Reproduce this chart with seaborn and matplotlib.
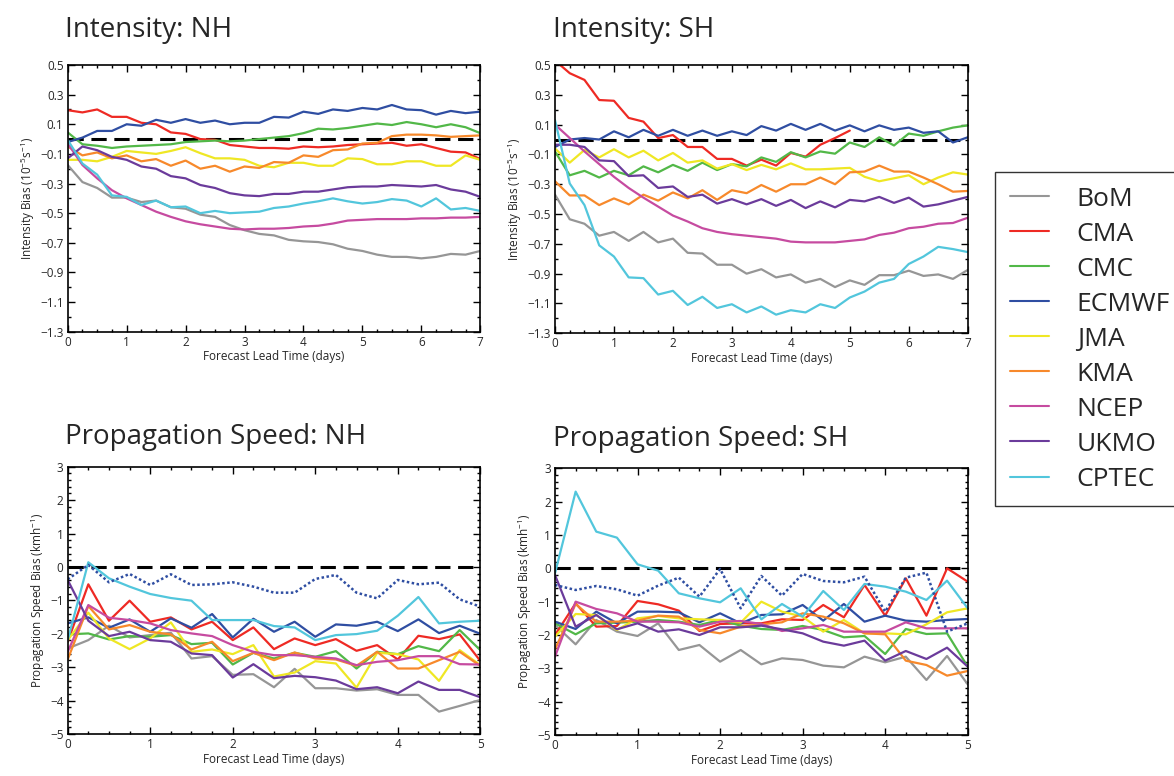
import numpy as np
import pandas as pd
import matplotlib
matplotlib.use("Agg")
import matplotlib.pyplot as plt
import seaborn as sns
from matplotlib.ticker import MultipleLocator
from matplotlib.lines import Line2D

sns.set_theme(style="ticks")
plt.rcParams['font.family'] = ['Open Sans', 'DejaVu Sans']
plt.rcParams['mathtext.default'] = 'regular'

models = ['BoM', 'CMA', 'CMC', 'ECMWF', 'JMA', 'KMA', 'NCEP', 'UKMO', 'CPTEC']
colors = ['#969696', '#ee2a24', '#52b848', '#2f4ea2', '#efe724',
          '#f7892b', '#c64ba0', '#6b3b9b', '#52c6dc']

lead_7 = np.arange(0, 7.01, 0.25)
lead_5 = np.arange(0, 5.01, 0.25)

# --- Intensity bias, Northern Hemisphere ---
int_nh_bom = [-0.175, -0.29, -0.33, -0.395, -0.395, -0.425, -0.415, -0.46, -0.47, -0.51, -0.525, -0.58, -0.615, -0.64, -0.65, -0.68, -0.69, -0.695, -0.71, -0.74, -0.755, -0.78, -0.795, -0.795, -0.805, -0.795, -0.775, -0.78, -0.755]
int_nh_cma = [0.195, 0.18, 0.20, 0.15, 0.15, 0.11, 0.10, 0.045, 0.035, 0.0, -0.005, -0.04, -0.05, -0.06, -0.06, -0.065, -0.05, -0.055, -0.05, -0.04, -0.035, -0.03, -0.025, -0.045, -0.035, -0.06, -0.085, -0.09, -0.135]
int_nh_cmc = [0.045, -0.035, -0.045, -0.06, -0.05, -0.045, -0.04, -0.035, -0.02, -0.015, -0.01, -0.015, -0.01, 0.0, 0.01, 0.02, 0.04, 0.07, 0.065, 0.075, 0.09, 0.105, 0.095, 0.115, 0.10, 0.08, 0.10, 0.08, 0.04]
int_nh_ecmwf = [-0.02, 0.01, 0.055, 0.055, 0.10, 0.09, 0.13, 0.11, 0.135, 0.11, 0.125, 0.10, 0.11, 0.11, 0.15, 0.145, 0.185, 0.17, 0.20, 0.19, 0.21, 0.20, 0.23, 0.20, 0.195, 0.165, 0.19, 0.175, 0.185]
int_nh_jma = [-0.14, -0.14, -0.15, -0.12, -0.08, -0.09, -0.10, -0.08, -0.055, -0.095, -0.13, -0.13, -0.14, -0.18, -0.19, -0.16, -0.16, -0.18, -0.18, -0.13, -0.135, -0.17, -0.17, -0.15, -0.15, -0.18, -0.18, -0.11, -0.14]
int_nh_kma = [-0.05, -0.11, -0.09, -0.13, -0.11, -0.15, -0.135, -0.18, -0.145, -0.20, -0.18, -0.22, -0.185, -0.195, -0.155, -0.16, -0.11, -0.12, -0.075, -0.07, -0.03, -0.025, 0.02, 0.03, 0.03, 0.025, 0.015, 0.02, 0.025]
int_nh_ncep = [-0.03, -0.175, -0.265, -0.345, -0.40, -0.445, -0.49, -0.525, -0.555, -0.575, -0.59, -0.605, -0.61, -0.605, -0.605, -0.60, -0.59, -0.585, -0.57, -0.55, -0.545, -0.54, -0.54, -0.54, -0.535, -0.535, -0.53, -0.53, -0.525]
int_nh_ukmo = [-0.13, -0.05, -0.075, -0.12, -0.14, -0.185, -0.20, -0.25, -0.265, -0.31, -0.33, -0.365, -0.38, -0.385, -0.37, -0.37, -0.355, -0.355, -0.34, -0.325, -0.32, -0.32, -0.31, -0.315, -0.32, -0.31, -0.34, -0.355, -0.39]
int_nh_cptec = [-0.005, -0.165, -0.24, -0.38, -0.39, -0.445, -0.415, -0.46, -0.455, -0.50, -0.485, -0.50, -0.495, -0.49, -0.465, -0.455, -0.435, -0.42, -0.40, -0.42, -0.435, -0.425, -0.405, -0.415, -0.455, -0.40, -0.475, -0.465, -0.485]

# --- Intensity bias, Southern Hemisphere ---
int_sh_bom = [-0.37, -0.535, -0.565, -0.645, -0.62, -0.68, -0.62, -0.69, -0.665, -0.76, -0.765, -0.84, -0.84, -0.90, -0.87, -0.925, -0.905, -0.96, -0.935, -0.99, -0.945, -0.975, -0.91, -0.91, -0.88, -0.915, -0.905, -0.935, -0.875]
int_sh_cma = [0.53, 0.445, 0.40, 0.265, 0.26, 0.145, 0.12, 0.01, 0.03, -0.05, -0.05, -0.13, -0.13, -0.175, -0.135, -0.175, -0.09, -0.115, -0.035, 0.01, 0.06]
int_sh_cmc = [-0.08, -0.24, -0.21, -0.255, -0.21, -0.24, -0.18, -0.22, -0.17, -0.21, -0.155, -0.205, -0.165, -0.18, -0.12, -0.15, -0.085, -0.12, -0.08, -0.095, -0.02, -0.05, 0.015, -0.04, 0.04, 0.025, 0.055, 0.08, 0.095]
int_sh_ecmwf = [-0.05, 0.0, 0.01, 0.0, 0.055, 0.015, 0.065, 0.025, 0.065, 0.025, 0.06, 0.025, 0.055, 0.03, 0.09, 0.06, 0.105, 0.065, 0.105, 0.06, 0.095, 0.055, 0.095, 0.065, 0.08, 0.045, 0.055, -0.02, 0.015]
int_sh_jma = [-0.06, -0.155, -0.07, -0.12, -0.065, -0.12, -0.075, -0.14, -0.09, -0.155, -0.14, -0.195, -0.165, -0.205, -0.17, -0.20, -0.16, -0.20, -0.20, -0.195, -0.19, -0.25, -0.28, -0.26, -0.24, -0.30, -0.255, -0.22, -0.235]
int_sh_kma = [-0.28, -0.375, -0.375, -0.44, -0.395, -0.435, -0.37, -0.41, -0.355, -0.395, -0.34, -0.405, -0.34, -0.36, -0.305, -0.35, -0.30, -0.30, -0.255, -0.30, -0.22, -0.215, -0.175, -0.215, -0.215, -0.255, -0.30, -0.35, -0.345]
int_sh_ncep = [0.10, 0.01, -0.08, -0.165, -0.25, -0.325, -0.39, -0.45, -0.51, -0.55, -0.595, -0.62, -0.635, -0.645, -0.655, -0.665, -0.685, -0.69, -0.69, -0.69, -0.68, -0.67, -0.64, -0.625, -0.595, -0.585, -0.565, -0.56, -0.525]
int_sh_ukmo = [-0.035, -0.035, -0.05, -0.14, -0.145, -0.245, -0.24, -0.325, -0.315, -0.385, -0.37, -0.43, -0.40, -0.435, -0.40, -0.445, -0.405, -0.46, -0.415, -0.455, -0.405, -0.415, -0.385, -0.425, -0.39, -0.45, -0.435, -0.41, -0.385]
int_sh_cptec = [0.13, -0.295, -0.44, -0.71, -0.785, -0.925, -0.93, -1.04, -1.015, -1.11, -1.055, -1.13, -1.105, -1.16, -1.12, -1.175, -1.145, -1.16, -1.105, -1.13, -1.06, -1.02, -0.96, -0.935, -0.835, -0.785, -0.72, -0.735, -0.755]

# --- Propagation speed bias, Northern Hemisphere ---
spd_nh_bom = [-2.44, -2.19, -1.76, -2.11, -2.04, -1.97, -2.74, -2.67, -3.23, -3.21, -3.60, -3.05, -3.63, -3.63, -3.70, -3.66, -3.83, -3.83, -4.33, -4.16, -3.98]
spd_nh_cma = [-2.24, -0.52, -1.61, -1.01, -1.64, -1.51, -1.87, -1.64, -2.19, -1.81, -2.46, -2.14, -2.34, -2.16, -2.51, -2.34, -2.77, -2.06, -2.16, -2.02, -2.81]
spd_nh_cmc = [-2.02, -1.99, -2.17, -2.07, -2.09, -2.04, -2.31, -2.27, -2.92, -2.57, -2.74, -2.57, -2.69, -2.52, -3.04, -2.54, -2.61, -2.37, -2.52, -1.89, -2.49]
spd_nh_ecmwf = [-1.69, -1.51, -1.82, -1.57, -1.94, -1.54, -1.82, -1.41, -2.11, -1.55, -1.94, -1.64, -2.09, -1.72, -1.76, -1.64, -1.92, -1.57, -1.98, -1.76, -2.0]
spd_nh_jma = [-2.19, -1.37, -2.14, -2.46, -2.14, -1.66, -2.54, -2.47, -2.61, -2.34, -3.28, -3.16, -2.82, -2.89, -3.61, -2.57, -2.61, -2.77, -3.41, -2.49, -2.94]
spd_nh_kma = [-2.77, -1.17, -1.87, -1.74, -1.94, -2.02, -2.47, -2.24, -2.82, -2.57, -2.79, -2.56, -2.74, -2.77, -2.96, -2.54, -3.04, -3.04, -2.79, -2.54, -2.96]
spd_nh_ncep = [-2.54, -1.14, -1.52, -1.59, -1.69, -1.89, -1.99, -2.07, -2.34, -2.54, -2.64, -2.64, -2.69, -2.74, -2.94, -2.84, -2.79, -2.67, -2.67, -2.91, -2.92]
spd_nh_ukmo = [-0.39, -1.61, -2.07, -1.94, -2.19, -2.24, -2.59, -2.64, -3.31, -2.91, -3.33, -3.26, -3.30, -3.40, -3.66, -3.60, -3.78, -3.43, -3.68, -3.68, -3.90]
spd_nh_cptec = [-2.19, 0.14, -0.34, -0.59, -0.81, -0.93, -1.01, -1.59, -1.59, -1.59, -1.77, -1.81, -2.19, -2.04, -2.01, -1.91, -1.46, -0.90, -1.69, -1.64, -1.61]
spd_nh_ecmwf_dot = [-0.37, 0.06, -0.46, -0.21, -0.54, -0.22, -0.54, -0.52, -0.46, -0.59, -0.77, -0.77, -0.36, -0.24, -0.77, -0.94, -0.39, -0.52, -0.47, -0.97, -1.19]

# --- Propagation speed bias, Southern Hemisphere ---
spd_sh_bom = [-1.7, -2.28, -1.55, -1.9, -2.03, -1.65, -2.45, -2.3, -2.8, -2.45, -2.88, -2.7, -2.75, -2.92, -2.97, -2.65, -2.82, -2.65, -3.35, -2.63, -3.48]
spd_sh_cma = [-2.0, -1.05, -1.75, -1.73, -0.98, -1.08, -1.27, -1.88, -1.67, -1.65, -1.65, -1.53, -1.55, -1.1, -1.47, -0.5, -1.42, -0.3, -1.42, 0.0, -0.4]
spd_sh_cmc = [-1.65, -1.98, -1.65, -1.63, -1.6, -1.55, -1.6, -1.7, -1.55, -1.72, -1.82, -1.85, -1.73, -1.85, -2.07, -2.03, -2.57, -1.82, -1.97, -1.95, -2.95]
spd_sh_ecmwf = [-1.6, -1.82, -1.3, -1.65, -1.3, -1.3, -1.32, -1.62, -1.35, -1.65, -1.4, -1.38, -1.1, -1.57, -1.07, -1.6, -1.42, -1.57, -1.6, -1.55, -1.52]
spd_sh_jma = [-2.05, -1.37, -1.4, -1.85, -1.5, -1.43, -1.5, -1.53, -1.55, -1.63, -1.0, -1.3, -1.45, -1.9, -1.55, -1.95, -1.95, -1.98, -1.68, -1.32, -1.2]
spd_sh_kma = [-2.43, -1.07, -1.6, -1.6, -1.57, -1.42, -1.45, -1.85, -1.95, -1.75, -1.68, -1.62, -1.35, -1.45, -1.65, -1.95, -1.98, -2.77, -2.9, -3.22, -3.08]
spd_sh_ncep = [-2.65, -1.0, -1.22, -1.35, -1.6, -1.6, -1.62, -1.75, -1.6, -1.58, -1.67, -1.88, -1.8, -1.7, -1.9, -1.9, -1.9, -1.62, -1.8, -1.8, -1.8]
spd_sh_ukmo = [-0.2, -1.75, -1.4, -1.83, -1.65, -1.9, -1.83, -2.0, -1.77, -1.77, -1.72, -1.83, -1.95, -2.2, -2.32, -2.17, -2.77, -2.48, -2.72, -2.38, -2.95]
spd_sh_cptec = [-0.15, 2.3, 1.1, 0.92, 0.12, -0.07, -0.75, -0.9, -1.02, -0.6, -1.53, -1.07, -1.45, -0.68, -1.25, -0.47, -0.55, -0.7, -0.95, -0.37, -1.2]
spd_sh_ecmwf_dot = [-0.5, -0.65, -0.53, -0.63, -0.82, -0.52, -0.28, -0.85, -0.02, -1.2, -0.23, -0.82, -0.17, -0.38, -0.42, -0.25, -1.3, -0.28, -0.13, -1.9, -1.65]

int_nh = [int_nh_bom, int_nh_cma, int_nh_cmc, int_nh_ecmwf, int_nh_jma, int_nh_kma, int_nh_ncep, int_nh_ukmo, int_nh_cptec]
int_sh = [int_sh_bom, int_sh_cma, int_sh_cmc, int_sh_ecmwf, int_sh_jma, int_sh_kma, int_sh_ncep, int_sh_ukmo, int_sh_cptec]
spd_nh = [spd_nh_bom, spd_nh_cma, spd_nh_cmc, spd_nh_ecmwf, spd_nh_jma, spd_nh_kma, spd_nh_ncep, spd_nh_ukmo, spd_nh_cptec]
spd_sh = [spd_sh_bom, spd_sh_cma, spd_sh_cmc, spd_sh_ecmwf, spd_sh_jma, spd_sh_kma, spd_sh_ncep, spd_sh_ukmo, spd_sh_cptec]


def long_frame(series, lead):
    rows = []
    for name, vals in zip(models, series):
        for x, v in zip(lead, vals):
            rows.append((name, x, v))
    return pd.DataFrame(rows, columns=['model', 'lead', 'bias'])


fig = plt.figure(figsize=(11.74, 7.76), dpi=100)
W, H = 1174, 776

def px_axes(x0, y0, x1, y1):
    return fig.add_axes([x0 / W, 1 - y1 / H, (x1 - x0) / W, (y1 - y0) / H])

panels = [
    (px_axes(67.7, 65, 480.3, 331.7), int_nh, None, lead_7, 'Intensity: NH'),
    (px_axes(555, 65, 967.7, 333.3), int_sh, None, lead_7, 'Intensity: SH'),
    (px_axes(67.7, 466.7, 480.3, 734), spd_nh, spd_nh_ecmwf_dot, lead_5, 'Propagation Speed: NH'),
    (px_axes(555, 468.3, 967.7, 735), spd_sh, spd_sh_ecmwf_dot, lead_5, 'Propagation Speed: SH'),
]

palette = dict(zip(models, colors))

for ax, series, dotted, lead, title in panels:
    ax.axhline(0, color='black', lw=2.2, ls=(0, (5, 2.5)), zorder=1)
    df = long_frame(series, lead)
    sns.lineplot(data=df, x='lead', y='bias', hue='model', hue_order=models,
                 palette=palette, lw=1.6, errorbar=None, legend=False,
                 ax=ax, zorder=2)
    if dotted is not None:
        dd = pd.DataFrame({'lead': lead, 'bias': dotted})
        sns.lineplot(data=dd, x='lead', y='bias', color=colors[3], lw=1.8,
                     ls=(0, (1, 1)), errorbar=None, ax=ax, zorder=2)

    ax.set_xlim(lead[0], lead[-1])
    ax.xaxis.set_major_locator(MultipleLocator(1))
    ax.xaxis.set_minor_locator(MultipleLocator(0.25))
    if dotted is None:
        ax.set_ylim(-1.3, 0.5)
        ax.set_yticks([-1.3, -1.1, -0.9, -0.7, -0.5, -0.3, -0.1, 0.1, 0.3, 0.5])
        ax.yaxis.set_minor_locator(MultipleLocator(0.1))
        ax.set_ylabel(r'Intensity Bias (10$^{-5}$s$^{-1}$)', fontsize=8.5, labelpad=2)
    else:
        ax.set_ylim(-5, 3)
        ax.set_yticks([-5, -4, -3, -2, -1, 0, 1, 2, 3])
        ax.yaxis.set_minor_locator(MultipleLocator(0.2))
        ax.set_ylabel(r'Propagation Speed Bias (kmh$^{-1}$)', fontsize=8.5, labelpad=2)
    ax.set_xlabel('Forecast Lead Time (days)', fontsize=8.5, labelpad=1)
    ax.tick_params(which='both', direction='in', top=True, right=True,
                   labelsize=8.5, pad=3, color='black', width=1)
    ax.tick_params(which='major', length=5)
    ax.tick_params(which='minor', length=2.5)
    for s in ax.spines.values():
        s.set_linewidth(1.2)
        s.set_color('black')
    ax.set_title(title, loc='left', fontsize=20, pad=20 if dotted is None else 16, x=-0.006)

handles = [Line2D([0], [0], color=c, lw=1.5) for c in colors]
leg = fig.legend(handles, models, loc='upper left',
                 bbox_to_anchor=(995 / W, 1 - 172 / H), borderaxespad=0,
                 fontsize=19, frameon=True, fancybox=False, edgecolor='black',
                 handlelength=1.5, handletextpad=1.05, labelspacing=0.38,
                 borderpad=0.55)
leg.get_frame().set_linewidth(1.0)

fig.savefig('out.png', dpi=100)
